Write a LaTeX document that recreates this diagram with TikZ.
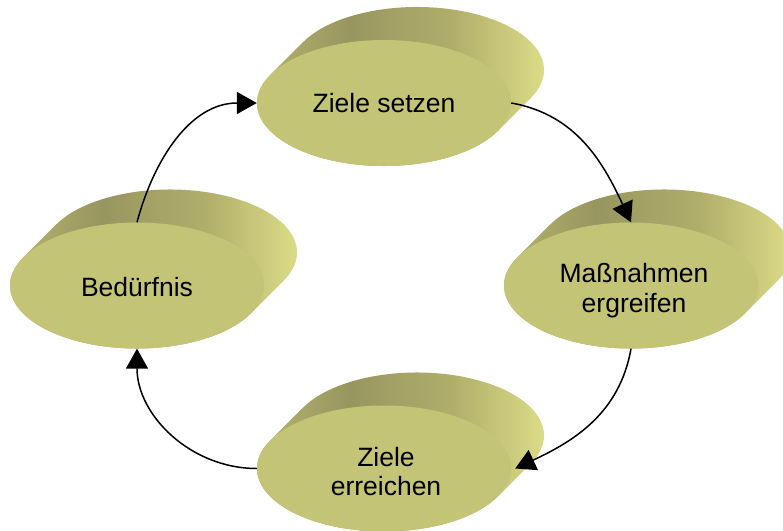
\documentclass[tikz,border=0pt]{standalone}
\usepackage{fontspec}
\setmainfont{Liberation Sans}
\usetikzlibrary{arrows.meta,calc,shapes.geometric}

\definecolor{face}{RGB}{196,196,118}
\definecolor{rimA}{RGB}{188,186,112}
\definecolor{rimB}{RGB}{152,150,96}
\definecolor{rimC}{RGB}{176,174,106}
\definecolor{rimD}{RGB}{228,228,140}

% side of the extruded disc: darker in the middle, light at the far rim
\pgfdeclarehorizontalshading{rim}{100bp}{color(0bp)=(rimA); color(25bp)=(rimA);
  color(42bp)=(rimB); color(58bp)=(rimC); color(75bp)=(rimD); color(100bp)=(rimD)}

\tikzset{
  % extruded side of a disc, pushed back to the upper right
  pics/disc/.style={code={
    \shade[shading=rim] (153.43:127 and 63) -- ++(33,33)
      arc[start angle=153.43, end angle=-26.57, x radius=127, y radius=63]
      -- ++(-33,-33)
      arc[start angle=-26.57, end angle=-206.57, x radius=127, y radius=63] -- cycle;
  }},
  frontface/.style={ellipse, fill=face, minimum width=254pt, minimum height=126pt, inner sep=0pt},
  lbl/.style={anchor=base, inner sep=0pt, font=\fontsize{26.5}{30}\selectfont},
  conn/.style={line width=1.5pt, -{Triangle[length=20pt,width=22pt]}},
}

\begin{document}
\begin{tikzpicture}[x=1pt,y=1pt]
  \clip (0,0) rectangle (783,530);

  % discs
  \pic at (384,427) {disc};
  \node[frontface] (set) at (384,427) {};
  \pic at (137,244.5) {disc};
  \node[frontface] (bed) at (137,244.5) {};
  \pic at (631,244.5) {disc};
  \node[frontface] (mas) at (631,244.5) {};
  \pic at (384,61.5) {disc};
  \node[frontface] (err) at (384,61.5) {};

  % labels
  \node[lbl] (setA) at ($(set)+(0,-10)$) {Ziele setzen};
  \node[lbl] (bedA) at ($(bed)+(0,-11.5)$) {Bedürfnis};
  \node[lbl] (masA) at ($(mas)+(3,2.5)$) {Maßnahmen};
  \node[lbl] (masB) at ($(mas)+(3,-27.5)$) {ergreifen};
  \node[lbl] (errA) at ($(err)+(2,2.5)$) {Ziele};
  \node[lbl] (errB) at ($(err)+(2,-26.5)$) {erreichen};

  % cycle
  \draw[conn] (bed.north) to[out=75,in=180] (set.west);
  \draw[conn] (set.east) to[out=-10,in=115] (mas.north);
  \draw[conn] (mas.south) to[out=-100,in=25] ($(err.east)+(4,0)$);
  \draw[conn] (err.west) to[out=180,in=-90] (bed.south);
\end{tikzpicture}
\end{document}
